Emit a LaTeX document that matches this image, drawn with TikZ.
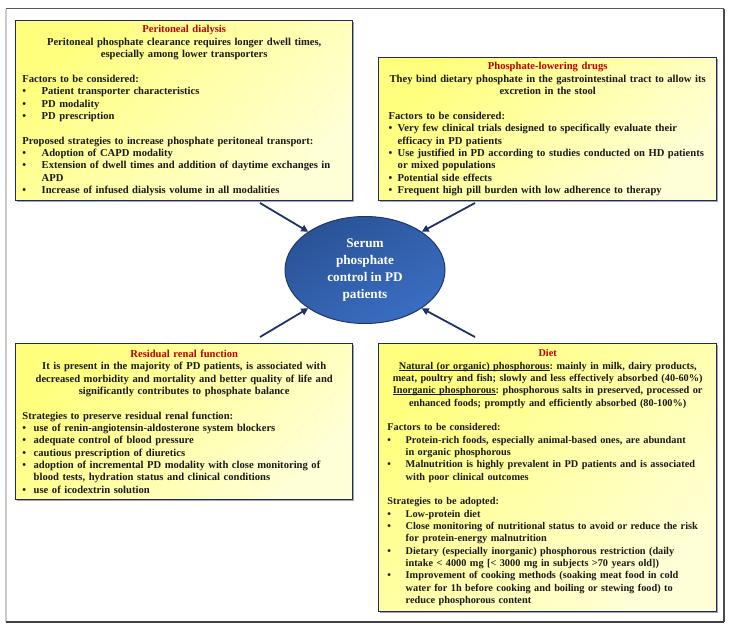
\documentclass[tikz,border=0pt]{standalone}
\usepackage{fontspec}
\setmainfont{Liberation Serif}
\usetikzlibrary{shapes.geometric,shadows,arrows.meta}
\definecolor{navy}{HTML}{1F2A5E}
\definecolor{arrownavy}{HTML}{1F3268}
\definecolor{titlered}{HTML}{C00000}
\definecolor{textdark}{HTML}{1A1A1A}
\definecolor{boxtop}{RGB}{255,255,125}
\definecolor{boxbot}{RGB}{255,255,215}
\definecolor{elltop}{HTML}{2A5396}
\definecolor{ellbot}{HTML}{3A6DC2}
\definecolor{ellborder}{HTML}{1F3864}
\newcommand{\ctr}[1]{\makebox[\linewidth][c]{#1}}
\newcommand{\red}[1]{\textcolor{titlered}{#1}}
\newcommand{\bl}[1]{\makebox[#1][l]{•}}
\newcommand{\ind}[1]{\hspace*{#1}}
\newcommand{\ulx}[1]{\setbox0\hbox{#1}\rlap{\rule[-1.3pt]{\wd0}{0.6pt}}\box0}
\frenchspacing
\begin{document}
\begin{tikzpicture}[x=1pt,y=-1pt,
  box/.style={draw=navy, line width=1.4pt, rectangle, anchor=north west,
    top color=boxtop, bottom color=boxbot, shading angle=45,
    align=left, inner ysep=2pt, text=textdark,
    font=\fontsize{10.6}{12.35}\selectfont\bfseries\frenchspacing,
    drop shadow={shadow xshift=1.5pt, shadow yshift=-1.5pt, fill=black, opacity=0.35}},
  arr/.style={draw=arrownavy, line width=1.8pt, -{Triangle[length=7pt,width=7pt]}}]
\useasboundingbox (0,0) rectangle (734,631);
\fill[white] (0,0) rectangle (734,631);
% outer frame
\draw[line width=1.5pt, black!20] (6,9) -- (6,622);
\draw[line width=1pt, black!65] (6,9) -- (724,9);
\draw[line width=1.3pt, black!70] (724,9) -- (724,622);
\draw[line width=2pt, black!75] (6,622) -- (724,622);

% Peritoneal dialysis
\node[box, text width=323.6pt, inner xsep=6.7pt, minimum height=180pt] (pd) at (15,20) {%
\ctr{\red{Peritoneal dialysis}}\\
\ctr{Peritoneal phosphate clearance requires longer dwell times,}\\
\ctr{especially among lower transporters}\\[12.35pt]
Factors to be considered:\\
\bl{19.3pt}Patient transporter characteristics\\
\bl{19.3pt}PD modality\\
\bl{19.3pt}PD prescription\\[12.35pt]
Proposed strategies to increase phosphate peritoneal transport:\\
\bl{19.3pt}Adoption of CAPD modality\\
\bl{19.3pt}Extension of dwell times and addition of daytime exchanges in\\
\ind{19.3pt}APD\\
\bl{19.3pt}Increase of infused dialysis volume in all modalities};

% Phosphate-lowering drugs
\node[box, text width=318pt, inner xsep=10pt, minimum height=143pt] (pl) at (378,57) {%
\ctr{\red{Phosphate-lowering drugs}}\\
\ctr{They bind dietary phosphate in the gastrointestinal tract to allow its}\\
\ctr{excretion in the stool}\\[12.35pt]
Factors to be considered:\\
\bl{9pt}Very few clinical trials designed to specifically evaluate their\\
\ind{9pt}efficacy in PD patients\\
\bl{9pt}Use justified in PD according to studies conducted on HD patients\\
\ind{9pt}or mixed populations\\
\bl{9pt}Potential side effects\\
\bl{9pt}Frequent high pill burden with low adherence to therapy};

% Residual renal function
\node[box, text width=323.6pt, inner xsep=6.7pt, minimum height=156pt] (rr) at (15,343) {%
\ctr{\red{Residual renal function}}\\
\ctr{It is present in the majority of PD patients, is associated with}\\
\ctr{decreased morbidity and mortality and better quality of life and}\\
\ctr{significantly contributes to phosphate balance}\\[12.35pt]
Strategies to preserve residual renal function:\\
\bl{11.3pt}use of renin-angiotensin-aldosterone system blockers\\
\bl{11.3pt}adequate control of blood pressure\\
\bl{11.3pt}cautious prescription of diuretics\\
\bl{11.3pt}adoption of incremental PD modality with close monitoring of\\
\ind{11.3pt}blood tests, hydration status and clinical conditions\\
\bl{11.3pt}use of icodextrin solution};

% Diet
\node[box, text width=320.6pt, inner xsep=8.7pt, minimum height=268pt,
  font=\fontsize{10.3}{12.35}\selectfont\bfseries\frenchspacing] (dt) at (378,343) {%
\ctr{\red{Diet}}\\
\ctr{\ulx{Natural (or organic) phosphorous}: mainly in milk, dairy products,}\\
\ctr{meat, poultry and fish; slowly and less effectively absorbed (40-60\%)}\\
\ctr{\ulx{Inorganic phosphorous}: phosphorous salts in preserved, processed or}\\
\ctr{enhanced foods; promptly and efficiently absorbed (80-100\%)}\\[12.35pt]
Factors to be considered:\\
\bl{18.3pt}Protein-rich foods, especially animal-based ones, are abundant\\
\ind{18.3pt}in organic phosphorous\\
\bl{18.3pt}Malnutrition is highly prevalent in PD patients and is associated\\
\ind{18.3pt}with poor clinical outcomes\\[12.35pt]
Strategies to be adopted:\\
\bl{18.3pt}Low-protein diet\\
\bl{18.3pt}Close monitoring of nutritional status to avoid or reduce the risk\\
\ind{18.3pt}for protein-energy malnutrition\\
\bl{18.3pt}Dietary (especially inorganic) phosphorous restriction (daily\\
\ind{18.3pt}intake < 4000 mg [< 3000 mg in subjects >70 years old])\\
\bl{18.3pt}Improvement of cooking methods (soaking meat food in cold\\
\ind{18.3pt}water for 1h before cooking and boiling or stewing food) to\\
\ind{18.3pt}reduce phosphorous content};

% centre ellipse
\node[ellipse, draw=ellborder, line width=1pt, top color=elltop, bottom color=ellbot,
  shading angle=30, minimum width=160pt, minimum height=107pt, inner sep=0pt,
  align=center, text=white, font=\fontsize{13.2}{16.7}\selectfont\bfseries] (c) at (365,270)
  {Serum\\phosphate\\control in PD\\patients};

% arrows
\coordinate (a1) at (260,203);
\coordinate (a2) at (475,203);
\coordinate (a3) at (260,337);
\coordinate (a4) at (475,337);
\draw[arr] (a1) -- (c.146);
\draw[arr] (a2) -- (c.34);
\draw[arr] (a3) -- (c.214);
\draw[arr] (a4) -- (c.326);
\end{tikzpicture}
\end{document}
